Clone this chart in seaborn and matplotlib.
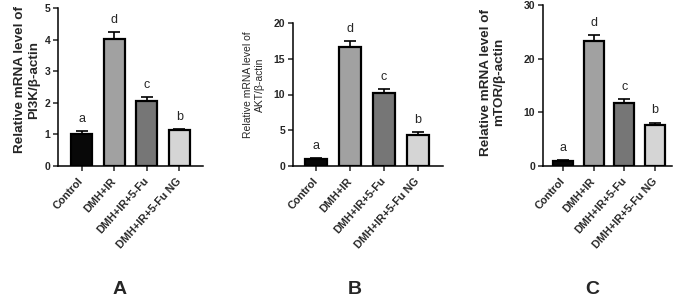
import matplotlib

matplotlib.use("Agg")

import matplotlib.pyplot as plt
import numpy as np
import pandas as pd
import seaborn as sns

groups = ["Control", "DMH+IR", "DMH+IR+5-Fu", "DMH+IR+5-Fu NG"]
bar_colors = ["#080808", "#a1a1a1", "#767676", "#d5d5d5"]
letters = ["a", "d", "c", "b"]

pi3k_mean = [1.0, 4.02, 2.05, 1.13]
pi3k_err = [0.10, 0.22, 0.13, 0.03]

akt_mean = [1.0, 16.6, 10.2, 4.4]
akt_err = [0.05, 0.9, 0.5, 0.3]

mtor_mean = [1.0, 23.3, 11.8, 7.7]
mtor_err = [0.1, 1.1, 0.7, 0.4]

ylabels = [
	"Relative mRNA level of\nPI3K/β-actin",
	"Relative mRNA level of\nAKT/β-actin",
	"Relative mRNA level of\nmTOR/β-actin",
]
yticks = [[0, 1, 2, 3, 4, 5], [0, 5, 10, 15, 20], [0, 10, 20, 30]]
panel_letters = ["A", "B", "C"]


def _draw_panel(ax, means, errs, yt, ylabel, bold_label, label_size, label_xy, xlim):
	df = pd.DataFrame({"group": groups, "value": means})
	sns.barplot(
		data=df,
		x="group",
		y="value",
		hue="group",
		palette=bar_colors,
		order=groups,
		hue_order=groups,
		width=0.65,
		edgecolor="black",
		linewidth=1.6,
		legend=False,
		ax=ax,
	)
	pos = np.arange(len(groups))
	ax.errorbar(
		pos,
		means,
		yerr=[np.zeros(len(errs)), errs],
		fmt="none",
		ecolor="black",
		elinewidth=1.2,
		capsize=4.5,
		capthick=1.2,
		zorder=1,
	)
	for x, m, e, let in zip(pos, means, errs, letters):
		ax.annotate(
			let,
			xy=(x, m + e),
			xytext=(0, 4.5),
			textcoords="offset points",
			ha="center",
			va="bottom",
			fontsize=9,
		)
	ax.set_ylim(yt[0], yt[-1])
	ax.set_yticks(yt)
	ax.set_xlim(*xlim)
	ax.set_xlabel("")
	ax.set_ylabel(
		ylabel,
		fontsize=label_size,
		fontweight="bold" if bold_label else "normal",
		linespacing=1.2,
	)
	ax.yaxis.set_label_coords(*label_xy)
	ax.set_xticks(pos)
	ax.set_xticklabels(
		groups,
		rotation=48,
		ha="right",
		va="center",
		rotation_mode="anchor",
		fontsize=7.8,
		fontweight="bold",
	)
	for lab in ax.get_yticklabels():
		lab.set_fontweight("bold")
		lab.set_fontsize(7.5)
	ax.tick_params(axis="both", direction="out", length=3.5, width=1.1, pad=2)
	ax.tick_params(axis="x", pad=6)
	sns.despine(ax=ax)
	for side in ["left", "bottom"]:
		ax.spines[side].set_linewidth(1.1)
		ax.spines[side].set_color("black")


def main() -> None:
	sns.set_theme(style="ticks")
	plt.rcParams["font.family"] = ["Liberation Sans", "DejaVu Sans"]

	fig = plt.figure(figsize=(6.77, 2.96), dpi=100)
	W, H = 677.0, 296.0

	# axes boxes in pixels: left, top, right, bottom(=zero line)
	boxes = [(58, 8, 203, 166), (293, 23, 443, 166), (543, 5, 672, 166)]
	xlims = [(-0.72, 3.72), (-0.68, 3.75), (-0.65, 3.55)]
	label_xys = [(-0.125, 0.545), (-0.19, 0.57), (-0.29, 0.52)]
	label_sizes = [9.7, 7.5, 9.7]
	label_bold = [True, False, True]
	letter_x = [120, 355, 592]

	data = [(pi3k_mean, pi3k_err), (akt_mean, akt_err), (mtor_mean, mtor_err)]

	for i, (means, errs) in enumerate(data):
		l, t, r, b = boxes[i]
		ax = fig.add_axes([l / W, 1 - b / H, (r - l) / W, (b - t) / H])
		_draw_panel(
			ax,
			means,
			errs,
			yticks[i],
			ylabels[i],
			label_bold[i],
			label_sizes[i],
			label_xys[i],
			xlims[i],
		)
		fig.text(
			letter_x[i] / W,
			1 - 289 / H,
			panel_letters[i],
			ha="center",
			va="center",
			fontsize=14,
			fontweight="bold",
		)

	fig.savefig("out.png", dpi=100)
	plt.close(fig)


if __name__ == "__main__":
	main()
